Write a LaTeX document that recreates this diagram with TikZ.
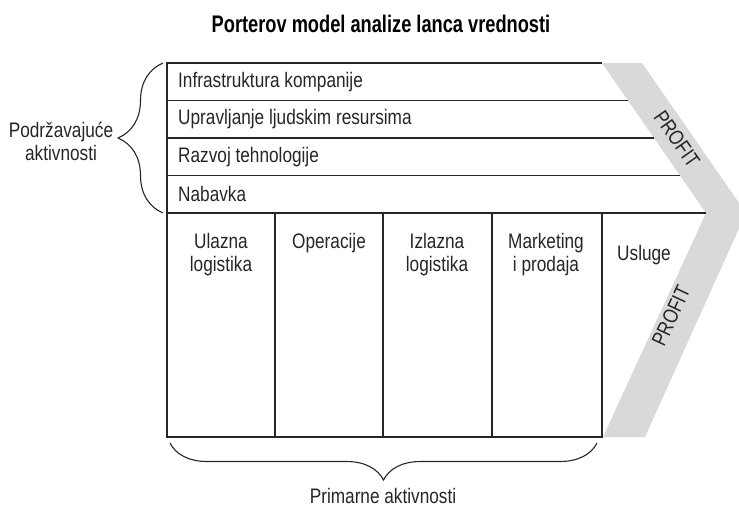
\documentclass[tikz,border=0pt]{standalone}
\usepackage{fontspec}
\setmainfont{Liberation Sans}[FakeStretch=0.82]
\newfontfamily\titlefont{Liberation Sans}[FakeStretch=0.76]
\usetikzlibrary{calc}
\usetikzlibrary{decorations.pathreplacing}
\definecolor{band}{gray}{0.85}
\definecolor{ink}{gray}{0.15}
\newcommand\lbl{\fontsize{21}{23}\selectfont}

\begin{document}
\begin{tikzpicture}[x=1pt,y=-1pt,
  line/.style={draw=ink,line width=1.3pt},
  txt/.style={inner sep=0pt,text=ink,font=\lbl},
  brc/.style={draw=ink,line width=1.1pt,decorate,decoration={brace,amplitude=#1}},
  brc/.default=40]
\useasboundingbox (0,0) rectangle (739,509);
\coordinate (tl) at (167,63);
\coordinate (bl) at (167,437);
\coordinate (a) at (602,63);
\coordinate (b) at (706,213);
\coordinate (c) at (603,437);
% profit band
\fill[band] (a) -- ++(40,0) -- ($(b)+(40,0)$) -- ($(c)+(42,0)$) -- (c) -- (b) -- cycle;
% frame and rows
\draw[line] (a) -- (tl) -- (bl) -- (c);
\foreach \f in {0.25,0.5,0.75,1}{
  \path ($(a)!\f!(b)$) coordinate (r);
  \draw[line] (r) -- (r -| tl);
}
\foreach \x in {275,383,492,602}
  \draw[line] (\x,213) -- (\x,437);
\node[inner sep=0pt,text=black,font=\titlefont\bfseries\fontsize{24}{26}\selectfont] (title) at (381,24) {Porterov model analize lanca vrednosti};
% support activities
\node[txt,anchor=west] (infra) at (178,82) {Infrastruktura kompanije};
\node[txt,anchor=west] (hr) at (178,119) {Upravljanje ljudskim resursima};
\node[txt,anchor=west] (tech) at (178,157) {Razvoj tehnologije};
\node[txt,anchor=west] (nab) at (178,194) {Nabavka};
% primary activities
\node[txt,anchor=north,align=center] (ul) at (221,233) {Ulazna\\logistika};
\node[txt,anchor=north,align=center] (op) at (329,233) {Operacije};
\node[txt,anchor=north,align=center] (iz) at (437,233) {Izlazna\\logistika};
\node[txt,anchor=north,align=center] (mk) at (546,233) {Marketing\\i prodaja};
\node[txt,anchor=west] (us) at (617,255) {Usluge};
\node[txt,rotate=-55] (p1) at (677,139) {PROFIT};
\node[txt,rotate=65] (p2) at (671,316) {PROFIT};
% braces
\draw[brc=45] (163,213) -- (163,63);
\draw[brc=37] (597,443) -- (170,443);
\node[txt,align=center] (sup) at (61,141) {Podržavajuće\\aktivnosti};
\node[txt] (prim) at (383,496) {Primarne aktivnosti};
\end{tikzpicture}
\end{document}
